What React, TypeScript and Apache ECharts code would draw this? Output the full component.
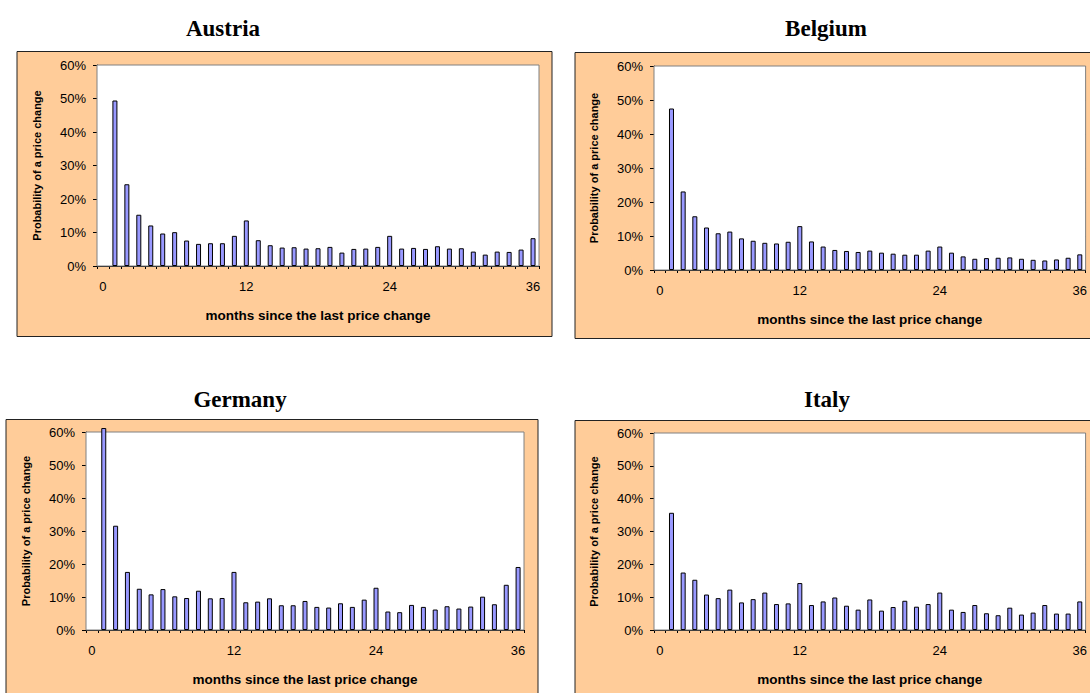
import React, { useEffect, useRef } from "react";
import * as echarts from "echarts";

const months = ["0","1","2","3","4","5","6","7","8","9","10","11","12","13","14","15","16","17","18","19","20","21","22","23","24","25","26","27","28","29","30","31","32","33","34","35","36"];
const yTicks = [0, 10, 20, 30, 40, 50, 60];

const austria = [49.4,24.4,15.3,12.1,9.7,10.1,7.6,6.6,6.8,6.8,9.0,13.6,7.7,6.2,5.5,5.6,5.2,5.3,5.7,4.0,5.1,5.2,5.7,9.0,5.2,5.4,5.1,5.9,5.2,5.3,4.3,3.4,4.3,4.2,4.9,8.3];
const belgium = [47.5,23.1,15.8,12.5,10.8,11.3,9.3,8.6,8.0,7.8,8.3,12.9,8.4,6.9,5.9,5.6,5.3,5.7,5.1,4.8,4.5,4.5,5.7,6.9,5.1,4.0,3.3,3.5,3.6,3.7,3.3,3.0,2.8,3.1,3.6,4.6];
const germany = [61.2,31.6,17.6,12.5,10.8,12.4,10.2,9.7,11.9,9.6,9.7,17.6,8.4,8.6,9.6,7.5,7.5,8.8,7.0,6.8,8.1,7.0,9.2,12.8,5.6,5.4,7.6,7.0,6.2,7.2,6.5,7.1,10.1,7.8,13.7,19.1];
const italy = [35.7,17.5,15.3,10.8,9.7,12.3,8.4,9.4,11.4,7.9,8.1,14.3,7.6,8.7,9.9,7.4,6.2,9.3,5.9,7.0,8.9,7.1,7.9,11.4,6.2,5.5,7.6,5.1,4.5,6.8,4.7,5.3,7.6,5.0,5.0,8.7];

const titles = ["Austria", "Belgium", "Germany", "Italy"];
const seriesData = [austria, belgium, germany, italy];

const plots = [
  { left: 97, top: 65, width: 442, height: 201 },
  { left: 654, top: 66, width: 433, height: 204 },
  { left: 86, top: 432, width: 438, height: 198 },
  { left: 654, top: 433, width: 432, height: 197 },
];
const boxes = [
  { x: 17, y: 51.5, w: 535, h: 285 },
  { x: 575, y: 52.5, w: 530, h: 286 },
  { x: 6, y: 419.5, w: 532, h: 300 },
  { x: 575, y: 420.5, w: 530, h: 300 },
];
const titlePos = [
  { x: 223, y: 28 },
  { x: 826, y: 28 },
  { x: 240, y: 399 },
  { x: 827, y: 399 },
];

export default function App() {
  const ref = useRef<HTMLDivElement>(null);
  useEffect(() => {
    if (!ref.current) return;
    const chart = echarts.init(ref.current, null, { renderer: "svg" });
    const font = "Liberation Sans";
    const graphic: any[] = [];
    boxes.forEach((b) => {
      graphic.push({
        type: "rect",
        z: -10,
        shape: { x: b.x, y: b.y, width: b.w, height: b.h },
        style: { fill: "#FFCC99", stroke: "#222", lineWidth: 1 },
      });
    });
    titles.forEach((t, i) => {
      graphic.push({
        type: "text",
        x: titlePos[i].x,
        y: titlePos[i].y,
        style: {
          text: t,
          fontFamily: "Liberation Serif",
          fontWeight: "bold",
          fontSize: 23,
          fill: "#000",
          align: "center",
          verticalAlign: "middle",
        },
      });
    });
    const option: any = {
      animation: false,
      graphic: { elements: graphic },
      grid: plots.map((p) => ({
        left: p.left,
        top: p.top,
        width: p.width,
        height: p.height,
        show: true,
        backgroundColor: "#fff",
        borderColor: "#808080",
        borderWidth: 1,
        containLabel: false,
        z: 2,
      })),
      xAxis: plots.map((_, i) => ({
        type: "category",
        gridIndex: i,
        data: months,
        boundaryGap: true,
        name: "months since the last price change",
        nameLocation: "middle",
        nameGap: 42,
        nameTextStyle: { fontFamily: font, fontWeight: "bold", fontSize: 13.5, color: "#000" },
        axisLine: { show: true, lineStyle: { color: "#000", width: 1 } },
        axisTick: { show: true, interval: 0, length: 3, lineStyle: { color: "#000" } },
        axisLabel: { interval: 11, margin: 14, fontFamily: font, fontSize: 13, color: "#000" },
        splitLine: { show: false },
      })),
      yAxis: plots.map((_, i) => ({
        type: "value",
        gridIndex: i,
        min: yTicks[0],
        max: yTicks[yTicks.length - 1],
        interval: 10,
        name: "Probability of a price change",
        nameLocation: "middle",
        nameGap: 55,
        nameRotate: 90,
        nameTextStyle: { fontFamily: font, fontWeight: "bold", fontSize: 11, color: "#000" },
        axisLine: { show: true, lineStyle: { color: "#000", width: 1 } },
        axisTick: { show: true, length: 4, lineStyle: { color: "#000" } },
        axisLabel: { margin: 11, fontFamily: font, fontSize: 13, color: "#000", formatter: "{value}%" },
        splitLine: { show: true, lineStyle: { color: "#333", width: 1 } },
      })),
      series: seriesData.map((d, i) => ({
        type: "bar",
        xAxisIndex: i,
        yAxisIndex: i,
        data: [null, ...d],
        barWidth: 5,
        clip: false,
        itemStyle: { color: "#9999FF", borderColor: "#000", borderWidth: 1 },
        z: 3,
      })),
    };
    chart.setOption(option);
    return () => chart.dispose();
  }, []);
  return (
    <div
      ref={ref}
      style={{ position: "fixed", left: 0, top: 0, width: 1090, height: 693, background: "#fff" }}
    />
  );
}
